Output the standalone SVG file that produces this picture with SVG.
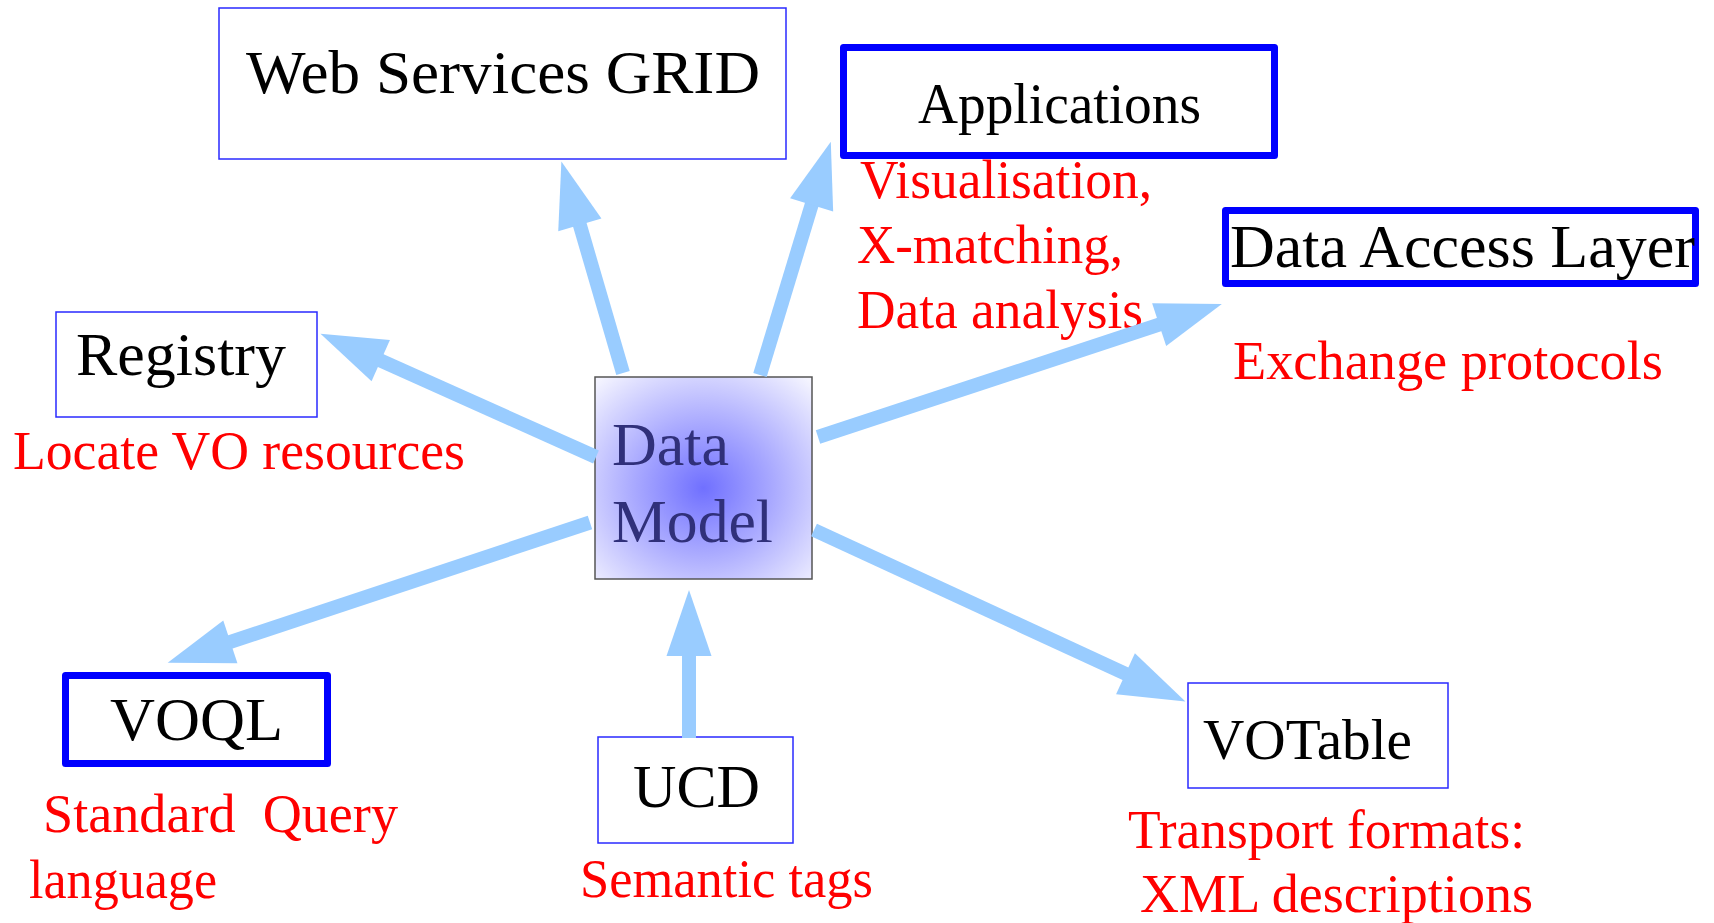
<svg xmlns="http://www.w3.org/2000/svg" width="1714" height="923" viewBox="0 0 1714 923">
<style>
.bx{fill:#fff;stroke:#2a2aff;stroke-width:1.5}
.bb{fill:#fff;stroke:#0000ff;stroke-width:7;stroke-linejoin:round}
.t{font-family:"Liberation Serif","Times New Roman",serif;fill:#000}
.r{font-family:"Liberation Serif","Times New Roman",serif;fill:#ff0000;font-size:54px}
.dm{font-family:"Liberation Serif","Times New Roman",serif;fill:#30307a;font-size:62px}
.ar{stroke:#99ccff;stroke-width:14;fill:none;marker-end:url(#ah)}
</style>
<defs>
<radialGradient id="g" cx="0.5" cy="0.55" r="0.72">
<stop offset="0" stop-color="#7070ff"/>
<stop offset="0.45" stop-color="#aaaaff"/>
<stop offset="1" stop-color="#f4f4ff"/>
</radialGradient>
<marker id="ah" markerUnits="userSpaceOnUse" markerWidth="70" markerHeight="46" refX="3" refY="22.5" orient="auto" overflow="visible">
<path d="M0,0 L66,22.5 L0,45 Z" fill="#99ccff"/>
</marker>
</defs>
<rect width="1714" height="923" fill="#fff"/>
<g id="node-wsg">
<rect class="bx" x="219" y="8" width="567" height="151"/>
<text class="t" x="246" y="93" font-size="62" textLength="514" lengthAdjust="spacingAndGlyphs">Web Services GRID</text>
</g>
<g id="node-applications">
<rect class="bb" x="843.5" y="47.5" width="431" height="108"/>
<text class="t" x="918" y="123" font-size="58" textLength="283" lengthAdjust="spacingAndGlyphs">Applications</text>
<text class="r" x="860" y="198" textLength="292" lengthAdjust="spacingAndGlyphs">Visualisation,</text>
<text class="r" x="857" y="263" textLength="266" lengthAdjust="spacingAndGlyphs">X-matching,</text>
<text class="r" x="857" y="328" textLength="286" lengthAdjust="spacingAndGlyphs">Data analysis</text>
</g>
<g id="node-dal">
<rect class="bb" x="1225.5" y="210.5" width="470" height="73"/>
<text class="t" x="1230" y="267" font-size="62" textLength="465" lengthAdjust="spacingAndGlyphs">Data Access Layer</text>
<text class="r" x="1233" y="379" textLength="430" lengthAdjust="spacingAndGlyphs">Exchange protocols</text>
</g>
<g id="node-registry">
<rect class="bx" x="56" y="312" width="261" height="105"/>
<text class="t" x="76" y="375" font-size="62" textLength="210" lengthAdjust="spacingAndGlyphs">Registry</text>
<text class="r" x="13" y="469" textLength="452" lengthAdjust="spacingAndGlyphs">Locate VO resources</text>
</g>
<g id="node-datamodel">
<rect x="595" y="377" width="217" height="202" fill="url(#g)" stroke="#555" stroke-width="1.5"/>
<text class="dm" x="612" y="465">Data</text>
<text class="dm" x="612" y="542" textLength="161" lengthAdjust="spacingAndGlyphs">Model</text>
</g>
<g id="node-voql">
<rect class="bb" x="65.5" y="675.5" width="262" height="88"/>
<text class="t" x="110" y="740" font-size="62" textLength="173" lengthAdjust="spacingAndGlyphs">VOQL</text>
<text class="r" x="43" y="832" xml:space="preserve" textLength="355" lengthAdjust="spacingAndGlyphs">Standard  Query</text>
<text class="r" x="29" y="898" textLength="188" lengthAdjust="spacingAndGlyphs">language</text>
</g>
<g id="node-ucd">
<rect class="bx" x="598" y="737" width="195" height="106"/>
<text class="t" x="633" y="807" font-size="62" textLength="127" lengthAdjust="spacingAndGlyphs">UCD</text>
<text class="r" x="580" y="897" textLength="293" lengthAdjust="spacingAndGlyphs">Semantic tags</text>
</g>
<g id="node-votable">
<rect class="bx" x="1188" y="683" width="260" height="105"/>
<text class="t" x="1203" y="759" font-size="58" textLength="209" lengthAdjust="spacingAndGlyphs">VOTable</text>
<text class="r" x="1128" y="848" textLength="397" lengthAdjust="spacingAndGlyphs">Transport formats:</text>
<text class="r" x="1140" y="912" textLength="393" lengthAdjust="spacingAndGlyphs">XML descriptions</text>
</g>
<g id="connectors">
<line class="ar" x1="623" y1="373" x2="579" y2="222"/>
<line class="ar" x1="760" y1="375" x2="812.5" y2="202"/>
<line class="ar" x1="818" y1="437" x2="1162" y2="323.7"/>
<line class="ar" x1="596" y1="457" x2="378" y2="359.4"/>
<line class="ar" x1="590" y1="522.5" x2="227.5" y2="642.9"/>
<line class="ar" x1="814" y1="530" x2="1128.2" y2="675"/>
<line class="ar" x1="689" y1="738" x2="689" y2="653"/>
</g>
</svg>
